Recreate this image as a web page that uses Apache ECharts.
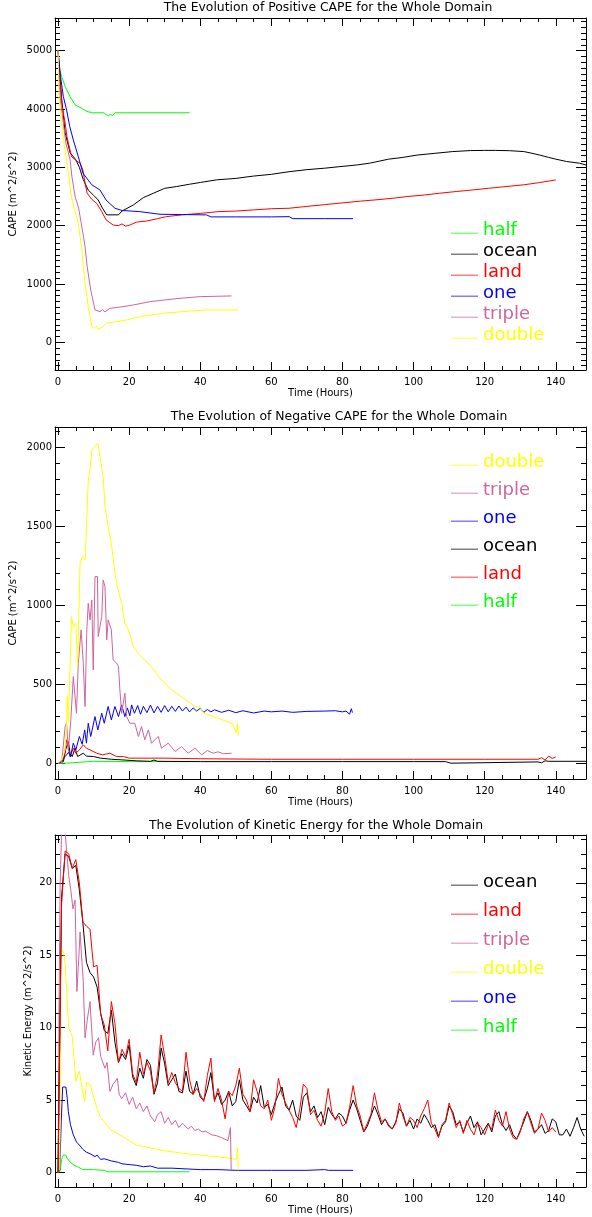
<!DOCTYPE html>
<html><head><meta charset="utf-8">
<script src="https://cdn.jsdelivr.net/npm/echarts@6/dist/echarts.min.js"></script>
<style>html,body{margin:0;padding:0;background:#fff}#c{width:592px;height:1217px}</style>
</head><body><div id="c"></div><script>
// ---------- tick values ----------
const xMajorTicks = [0,20,40,60,80,100,120,140];
const xMinorTicks = [0,5,10,15,20,25,30,35,40,45,50,55,60,65,70,75,80,85,90,95,100,105,110,115,120,125,130,135,140,145];
const posMajorTicks = [0,1000,2000,3000,4000,5000];
const posMinorTicks = [-400,-300,-200,-100,0,100,200,300,400,500,600,700,800,900,1000,1100,1200,1300,1400,1500,1600,1700,1800,1900,2000,2100,2200,2300,2400,2500,2600,2700,2800,2900,3000,3100,3200,3300,3400,3500,3600,3700,3800,3900,4000,4100,4200,4300,4400,4500,4600,4700,4800,4900,5000,5100,5200,5300,5400,5500];
const negMajorTicks = [0,500,1000,1500,2000];
const negMinorTicks = [-100,0,100,200,300,400,500,600,700,800,900,1000,1100,1200,1300,1400,1500,1600,1700,1800,1900,2000,2100];
const keMajorTicks = [0,5,10,15,20];
const keMinorTicks = [-1,0,1,2,3,4,5,6,7,8,9,10,11,12,13,14,15,16,17,18,19,20,21,22,23];

// ---------- Positive CAPE [hour, value] ----------
const posHalf = [[0,5010],[0.3,4730],[1,4560],[2,4390],[3.4,4210],[4.8,4070],[6.7,4010],[8.1,3960],[9.5,3935],[13,3935],[13.5,3900],[14.2,3885],[14.8,3915],[15.3,3880],[16,3935],[25,3935],[37,3935]];
const posOcean = [[0,5000],[0.5,4600],[1,4200],[2,3590],[3.4,3250],[5,3130],[6,3000],[7.1,2790],[8.5,2610],[10,2520],[11.3,2440],[12.5,2300],[13.7,2185],[17,2185],[18,2250],[21.2,2355],[24,2480],[26.8,2555],[30,2640],[33.3,2670],[37,2710],[40,2740],[44.6,2785],[50,2810],[55,2850],[60,2880],[65,2925],[70,2960],[75,2985],[79,3010],[84,3040],[87.6,3070],[93,3140],[97,3170],[101,3210],[106,3240],[111,3270],[116,3287],[120,3290],[123,3290],[127,3285],[131,3270],[133,3245],[135.5,3210],[138,3170],[140,3140],[143,3100],[146.7,3070],[148.5,3040]];
const posLand = [[0,5000],[0.5,4500],[1,4100],[2,3760],[2.5,3530],[2.9,3415],[3.8,3185],[5,3120],[6.2,3070],[7,2955],[7.6,2730],[8.2,2555],[9.5,2450],[10.9,2380],[12.3,2240],[13.5,2100],[15.5,2010],[17,2000],[18,2030],[19,1990],[20.2,2010],[22,2060],[25,2080],[28,2120],[30.5,2155],[35,2185],[40,2210],[45,2240],[50,2250],[55,2270],[60,2290],[65,2298],[70,2330],[75,2360],[79,2384],[85,2420],[90,2445],[95,2475],[98,2498],[103,2525],[107.4,2556],[112,2585],[116.8,2613],[121,2640],[126,2670],[131,2700],[135.5,2739],[140,2784]];
const posOne = [[0,5000],[0.7,4556],[1.5,4213],[2.4,3985],[3.3,3700],[4.3,3470],[5.7,3185],[7,2900],[8.5,2780],[9.5,2700],[11.8,2612],[13.5,2440],[16,2298],[18,2260],[23,2240],[28.7,2195],[35,2190],[41.8,2184],[43,2150],[50,2150],[60,2150],[65,2154],[66,2120],[75,2120],[83,2120]];
const posTriple = [[0,5000],[0.3,4440],[0.7,4155],[1.6,3700],[2.2,3415],[3.4,3130],[3.9,2843],[4.8,2500],[5.8,2300],[6.5,2050],[7.2,1800],[7.6,1640],[8.2,1297],[9.2,897],[10.4,554],[11.8,526],[12.5,560],[13.2,520],[14.6,583],[17,600],[21.2,640],[25.9,697],[30,726],[34.3,754],[40,783],[48.8,795]];
const posDouble = [[0,5000],[0.3,4155],[1.8,3358],[2.9,2900],[3.6,2555],[4.5,2300],[5.7,2040],[6.6,1640],[7.5,1070],[8.5,612],[9.5,269],[10.2,240],[10.8,280],[11.3,220],[12.5,260],[13.7,326],[16,350],[19.3,383],[23,440],[29.6,497],[35,526],[41.8,554],[50.7,554]];

// ---------- Negative CAPE [hour, value] ----------
const negDouble = [[0,0],[1,20],[2,84],[2.4,253],[2.6,422],[2.9,264],[3.8,928],[4.3,865],[5,886],[5.5,612],[6.2,1266],[6.9,1308],[7.6,1287],[8.1,1540],[8.5,1793],[9,1856],[9.5,1983],[10.4,2004],[11.2,2025],[11.8,1941],[12.7,1814],[13.2,1624],[14.1,1498],[15,1392],[16,1202],[16.9,1096],[17.9,1012],[18.8,886],[19.8,844],[21.2,738],[22.6,696],[24.4,654],[26.3,612],[28.2,548],[30,506],[31.9,464],[34.7,422],[36.6,390],[38.5,359],[39.9,358],[41,316],[43.6,295],[45.5,280],[47.4,264],[49,253],[50.2,190],[50.5,253],[50.7,170]];
const negTriple = [[0,0],[1,0],[2,232],[2.4,253],[2.9,84],[3.6,274],[4.3,548],[4.8,559],[5.2,316],[5.7,633],[6.5,844],[7.1,633],[7.6,359],[8.1,844],[8.5,1012],[9,907],[9.5,1033],[9.9,590],[10.4,1181],[11.1,1181],[11.3,801],[12.3,928],[12.7,1160],[13.2,1118],[13.7,780],[14.1,907],[15,844],[15.5,654],[16.5,633],[17,612],[17.4,464],[17.9,316],[18.8,443],[19.3,295],[20.2,253],[21.6,253],[22.6,169],[23.5,232],[24.4,148],[25.4,211],[26.3,127],[28.2,169],[29.1,95],[31,127],[32.9,74],[34.7,105],[36.6,63],[38.5,95],[40.4,53],[42,80],[43.6,63],[45,72],[46.5,60],[48.8,63]];
const negOne = [[0,0],[1,10],[2,42],[3,70],[3.5,40],[4.3,127],[5,84],[6,169],[6.8,120],[7.5,211],[8,127],[8.5,253],[9.2,169],[10.4,295],[11.2,211],[12.3,316],[13,253],[14.1,359],[15,274],[16,359],[17,295],[17.9,369],[18.8,295],[19.5,350],[20.2,300],[20.7,369],[21.5,316],[22.4,365],[23.2,310],[24,360],[25,320],[26,368],[27,318],[28,360],[29,322],[30,365],[31,325],[32,360],[33,328],[34,362],[35,330],[36,355],[37,325],[38,350],[39,330],[40,348],[41,322],[42,340],[43,325],[44,338],[46,322],[48,335],[50,320],[52,332],[55,318],[58,330],[60,325],[63,330],[66,322],[70,328],[75,330],[78,332],[80,325],[81,330],[82,310],[82.5,345],[82.8,320]];
const negOcean = [[0,0],[1.5,10],[2.2,90],[2.9,137],[3.4,60],[4,42],[4.8,95],[5.5,42],[7.1,63],[8,45],[10,42],[12,32],[15,25],[18,21],[22,15],[26,12],[27,20],[28,12],[40,10],[60,10],[80,10],[100,10],[109,10],[109.5,0],[110.5,0],[111,8],[135,8],[136,3],[137,15],[138,12],[148.5,12]];
const negLand = [[0,0],[1.5,20],[2,84],[2.4,148],[3.4,42],[4.3,95],[5,63],[6,84],[7.1,116],[8,95],[9,84],[10.9,63],[12.5,53],[14.6,63],[16.5,42],[18.4,42],[20,32],[30,32],[40,28],[60,25],[80,25],[100,25],[120,25],[135,25],[136,35],[137,20],[138,45],[139,30],[140,40]];
const negHalf = [[0,0],[2.4,0],[2.8,10],[10,12],[20,10],[37,10]];

// ---------- Kinetic Energy ----------
// hourly values, hour = index
const keOcean = [0,19,22,21.8,21,21.2,19.5,17.2,14.5,13.8,13.5,12.8,11,9.8,9.6,11.2,9,7.6,8.2,7.8,8.8,6.6,6.0,7.2,6.5,7.8,7.4,5.4,6.2,8.6,7.5,6.0,6.4,6.8,5.6,5.5,7.0,5.6,5.4,6.3,5.2,5.0,5.8,6.9,5.0,5.5,4.7,5.0,5.6,4.6,4.9,6.4,5.0,4.6,4.2,5.2,4.8,6.0,4.5,4.7,4.0,4.8,5.4,5.9,4.6,4.3,5.0,3.9,3.6,5.2,5.5,4.2,4.6,3.8,4.2,3.3,4.5,4.0,3.7,4.1,3.9,3.4,4.3,5.0,4.4,3.6,2.8,3.2,3.9,4.6,4.0,3.3,3.7,3.2,3.0,3.5,4.4,4.1,3.2,3.6,3.0,3.7,3.4,4.0,3.6,3.1,3.3,2.5,3.2,3.5,4.6,4.2,3.3,3.5,2.8,3.4,3.9,3.1,3.5,2.6,3.0,3.4,2.8,3.9,4.2,3.3,2.9,3.3,2.6,2.3,2.9,3.5,4.2,3.6,2.8,3.0,3.3,2.7,2.9,3.7,3.5,2.6,2.6,3.0,2.5,3.1,3.8,3.0,2.5];
const keLand = [0,18.5,22.2,22,21,21.6,20,17.3,17,16.8,14.2,14.3,10.9,10.2,8.4,11.8,10.3,7.6,8.5,8.0,9.2,6.8,6.2,8.3,6.8,7.6,7.0,5.5,6.8,9.5,8.0,6.2,6.9,6.2,5.8,5.6,8.3,6.4,5.4,5.8,5.4,4.9,6.7,7.9,4.9,5.8,5.0,3.7,5.6,5.3,6.0,7.2,5.4,5.0,4.2,6.4,5.6,4.6,4.4,5.0,3.6,4.5,6.5,5.4,4.8,4.3,3.8,3.1,4.4,6.1,5.8,4.0,4.3,3.6,3.2,4.1,5.8,4.2,3.6,3.9,3.2,3.4,4.5,6.0,4.6,3.9,2.8,3.4,4.0,5.5,4.3,3.5,3.7,3.3,3.0,3.4,4.8,3.9,3.2,3.8,3.6,3.1,3.9,4.4,5.0,3.4,3.0,2.4,3.3,3.6,4.8,4.0,3.1,3.6,2.7,3.6,3.0,2.6,3.4,3.1,2.6,3.3,3.0,4.3,3.6,3.2,4.2,3.0,2.4,2.3,2.8,3.7,4.2,3.4,2.7,3.0,4.1,3.6,2.8,3.1,2.8];
const keTriple = [[0,0],[0.3,12],[0.6,20],[1,23.5],[1.8,24],[2.5,22],[3,20.5],[3.6,19.5],[4.2,18.2],[4.8,18.8],[5.3,12.5],[5.8,14.6],[6.2,16.6],[6.6,15],[7.1,13.2],[7.6,9.3],[8.2,10.5],[9,11.8],[9.9,8.1],[10.6,9],[11.4,9.3],[12,8],[13.2,7.2],[13.8,7.6],[14.6,5.6],[15.5,6.1],[16.7,6.5],[17.2,5.4],[17.9,5.1],[19,5.5],[20,4.7],[21,5.2],[22,4.4],[23,4.8],[24,4.2],[25,4.6],[26,3.9],[27.2,3.5],[28,4.0],[29,4.2],[30,3.4],[31,3.8],[32,3.3],[33,3.6],[34,3.1],[35,3.4],[36.6,3.0],[37.5,3.2],[38.5,2.9],[39.5,3.0],[40.5,2.8],[41.5,2.85],[43.2,2.6],[44.5,2.55],[46,2.4],[47.8,2.2],[48.2,2.3],[48.5,3.1],[48.7,0.2]];
const keDouble = [[0,0],[0.5,0.3],[0.8,15.3],[1.5,15.3],[2,14.4],[2.5,12.3],[3,10],[4,9.4],[4.5,7.9],[5,6.3],[6,7.0],[7,5.5],[7.5,4.9],[8,6.2],[9,6.1],[10,5.2],[11,4.4],[12,3.8],[13,3.5],[14,3.2],[15,2.9],[16,2.8],[18,2.5],[20,2.2],[22,1.9],[24,1.8],[26,1.7],[28,1.6],[30,1.5],[33,1.4],[36,1.3],[40,1.2],[44,1.1],[48,1.0],[50.2,0.9],[50.5,1.7],[50.7,0.15]];
const keOne = [[0,0],[0.5,0.2],[0.9,3.5],[1.3,5.9],[2.2,5.9],[2.6,5.1],[2.9,4.2],[3.5,3.3],[4.3,2.6],[5.2,2.1],[6,1.9],[7,1.6],[8,1.4],[9,1.3],[10.4,1.1],[11,1.2],[12,0.9],[13,0.95],[15,0.8],[17,0.7],[18,0.6],[20,0.55],[22,0.5],[24,0.4],[26,0.45],[28,0.3],[32,0.3],[36,0.25],[40,0.2],[45,0.2],[50,0.15],[60,0.15],[70,0.15],[75,0.2],[76,0.15],[83,0.15]];
const keHalf = [[0,0],[0.6,0.1],[1,0.9],[1.5,1.2],[2.2,1.2],[2.5,1.0],[3.5,0.7],[4.5,0.5],[5.5,0.4],[7,0.2],[10,0.2],[13,0.15],[14,0.05],[25,0.05],[37,0.05]];

const COLORS = {half:'#00ff00', ocean:'#000000', land:'#ff0000', one:'#0000ff', triple:'#cf659d', double:'#ffff00'};
const FONT = 'DejaVu Sans';
const XMIN = -0.85, XMAX = 148.5;
const GL = 55, GW = 531, GH = 352;

const hourly = arr => arr.map((v, i) => [i, v]);

const panels = [
  {top:18, title:'The Evolution of Positive CAPE for the Whole Domain', tx:328, ty:8,
   yName:'CAPE (m^2/s^2)', yGap:37, ymin:-475, ymax:5560, major:posMajorTicks, minor:posMinorTicks,
   legendOrder:['half','ocean','land','one','triple','double'], lTop:221, lGap:3,
   order:['half','ocean','land','one','triple','double'],
   data:{half:posHalf, ocean:posOcean, land:posLand, one:posOne, triple:posTriple, double:posDouble}},
  {top:427, title:'The Evolution of Negative CAPE for the Whole Domain', tx:339, ty:417,
   yName:'CAPE (m^2/s^2)', yGap:37, ymin:-100, ymax:2128, major:negMajorTicks, minor:negMinorTicks,
   legendOrder:['double','triple','one','ocean','land','half'], lTop:453, lGap:10,
   order:['half','ocean','land','one','triple','double'],
   data:{double:negDouble, triple:negTriple, one:negOne, ocean:negOcean, land:negLand, half:negHalf}},
  {top:835, title:'The Evolution of Kinetic Energy for the Whole Domain', tx:316, ty:826,
   yName:'Kinetic Energy (m^2/s^2)', yGap:22, ymin:-1, ymax:23.3, major:keMajorTicks, minor:keMinorTicks,
   legendOrder:['ocean','land','triple','double','one','half'], lTop:873, lGap:11,
   order:['half','one','double','triple','ocean','land'],
   data:{ocean:hourly(keOcean), land:hourly(keLand), triple:keTriple, double:keDouble, one:keOne, half:keHalf}}
];

const grid = [], xAxis = [], yAxis = [], series = [], legend = [], graphic = [];
const lbl = {fontFamily:FONT, fontSize:10, color:'#000'};

panels.forEach((p, gi) => {
  grid.push({left:GL, top:p.top, width:GW, height:GH, outerBoundsMode:'none', containLabel:false});
  const mkX = (pos, ticks, len, main) => ({
    type:'value', gridIndex:gi, position:pos, min:XMIN, max:XMAX,
    axisLine:{show:main, onZero:false, lineStyle:{color:'#000', width:1}},
    splitLine:{show:false},
    axisTick:{show:true, inside:true, length:len, customValues:ticks, lineStyle:{color:'#000', width:1}},
    axisLabel:{show:main && pos==='bottom', customValues:ticks, margin:7, formatter:v => String(v), ...lbl},
    name: (main && pos==='bottom') ? 'Time (Hours)' : '', nameLocation:'middle', nameGap:18,
    nameTextStyle:{...lbl}, nameMoveOverlap:false
  });
  xAxis.push(mkX('bottom', xMajorTicks, 8, true));
  xAxis.push(mkX('bottom', xMinorTicks, 4, false));
  xAxis.push(mkX('top', xMajorTicks, 8, true));
  xAxis.push(mkX('top', xMinorTicks, 4, false));
  const mkY = (pos, ticks, len, main) => ({
    type:'value', gridIndex:gi, position:pos, min:p.ymin, max:p.ymax,
    axisLine:{show:main, onZero:false, lineStyle:{color:'#000', width:1}},
    splitLine:{show:false},
    axisTick:{show:true, inside:true, length:len, customValues:ticks, lineStyle:{color:'#000', width:1}},
    axisLabel:{show:main && pos==='left', customValues:ticks, margin:3, formatter:v => String(v), ...lbl},
    name: (main && pos==='left') ? p.yName : '', nameLocation:'middle', nameGap:p.yGap,
    nameTextStyle:{...lbl}, nameMoveOverlap:false
  });
  yAxis.push(mkY('left', p.major, 10, true));
  yAxis.push(mkY('left', p.minor, 5, false));
  yAxis.push(mkY('right', p.major, 10, true));
  yAxis.push(mkY('right', p.minor, 5, false));

  p.order.forEach(name => {
    series.push({
      name, type:'line', xAxisIndex:gi*4, yAxisIndex:gi*4, data:p.data[name],
      symbol:'none', showSymbol:false, clip:true, animation:false,
      lineStyle:{color:COLORS[name], width:1}, itemStyle:{color:COLORS[name]},
      emphasis:{disabled:true}
    });
  });

  legend.push({
    left:451, top:p.lTop, orient:'vertical', itemGap:p.lGap, itemWidth:27, itemHeight:20,
    padding:0, selectedMode:false,
    icon:'path://M0,0L0.3,0L0.3,0.01Z M0,13L30,13L30,14L0,14Z M0,20L0.3,20L0.3,19.99Z',
    itemStyle:{borderWidth:0},
    textStyle:{fontFamily:FONT, fontSize:18},
    data:p.legendOrder.map(n => ({name:n,
      itemStyle:{color:COLORS[n], borderColor:COLORS[n], borderWidth:0},
      textStyle:{color:COLORS[n]}}))
  });

  graphic.push({type:'text', x:p.tx, y:p.ty, silent:true,
    style:{text:p.title, fontFamily:FONT, fontSize:12.4, fill:'#000', align:'center', verticalAlign:'middle', textAlign:'center', textVerticalAlign:'middle'}});
});

const chart = echarts.init(document.getElementById('c'), null, {renderer:'canvas'});
chart.setOption({
  animation:false, backgroundColor:'#fff',
  grid, xAxis, yAxis, series, legend, graphic
});
</script></body></html>
